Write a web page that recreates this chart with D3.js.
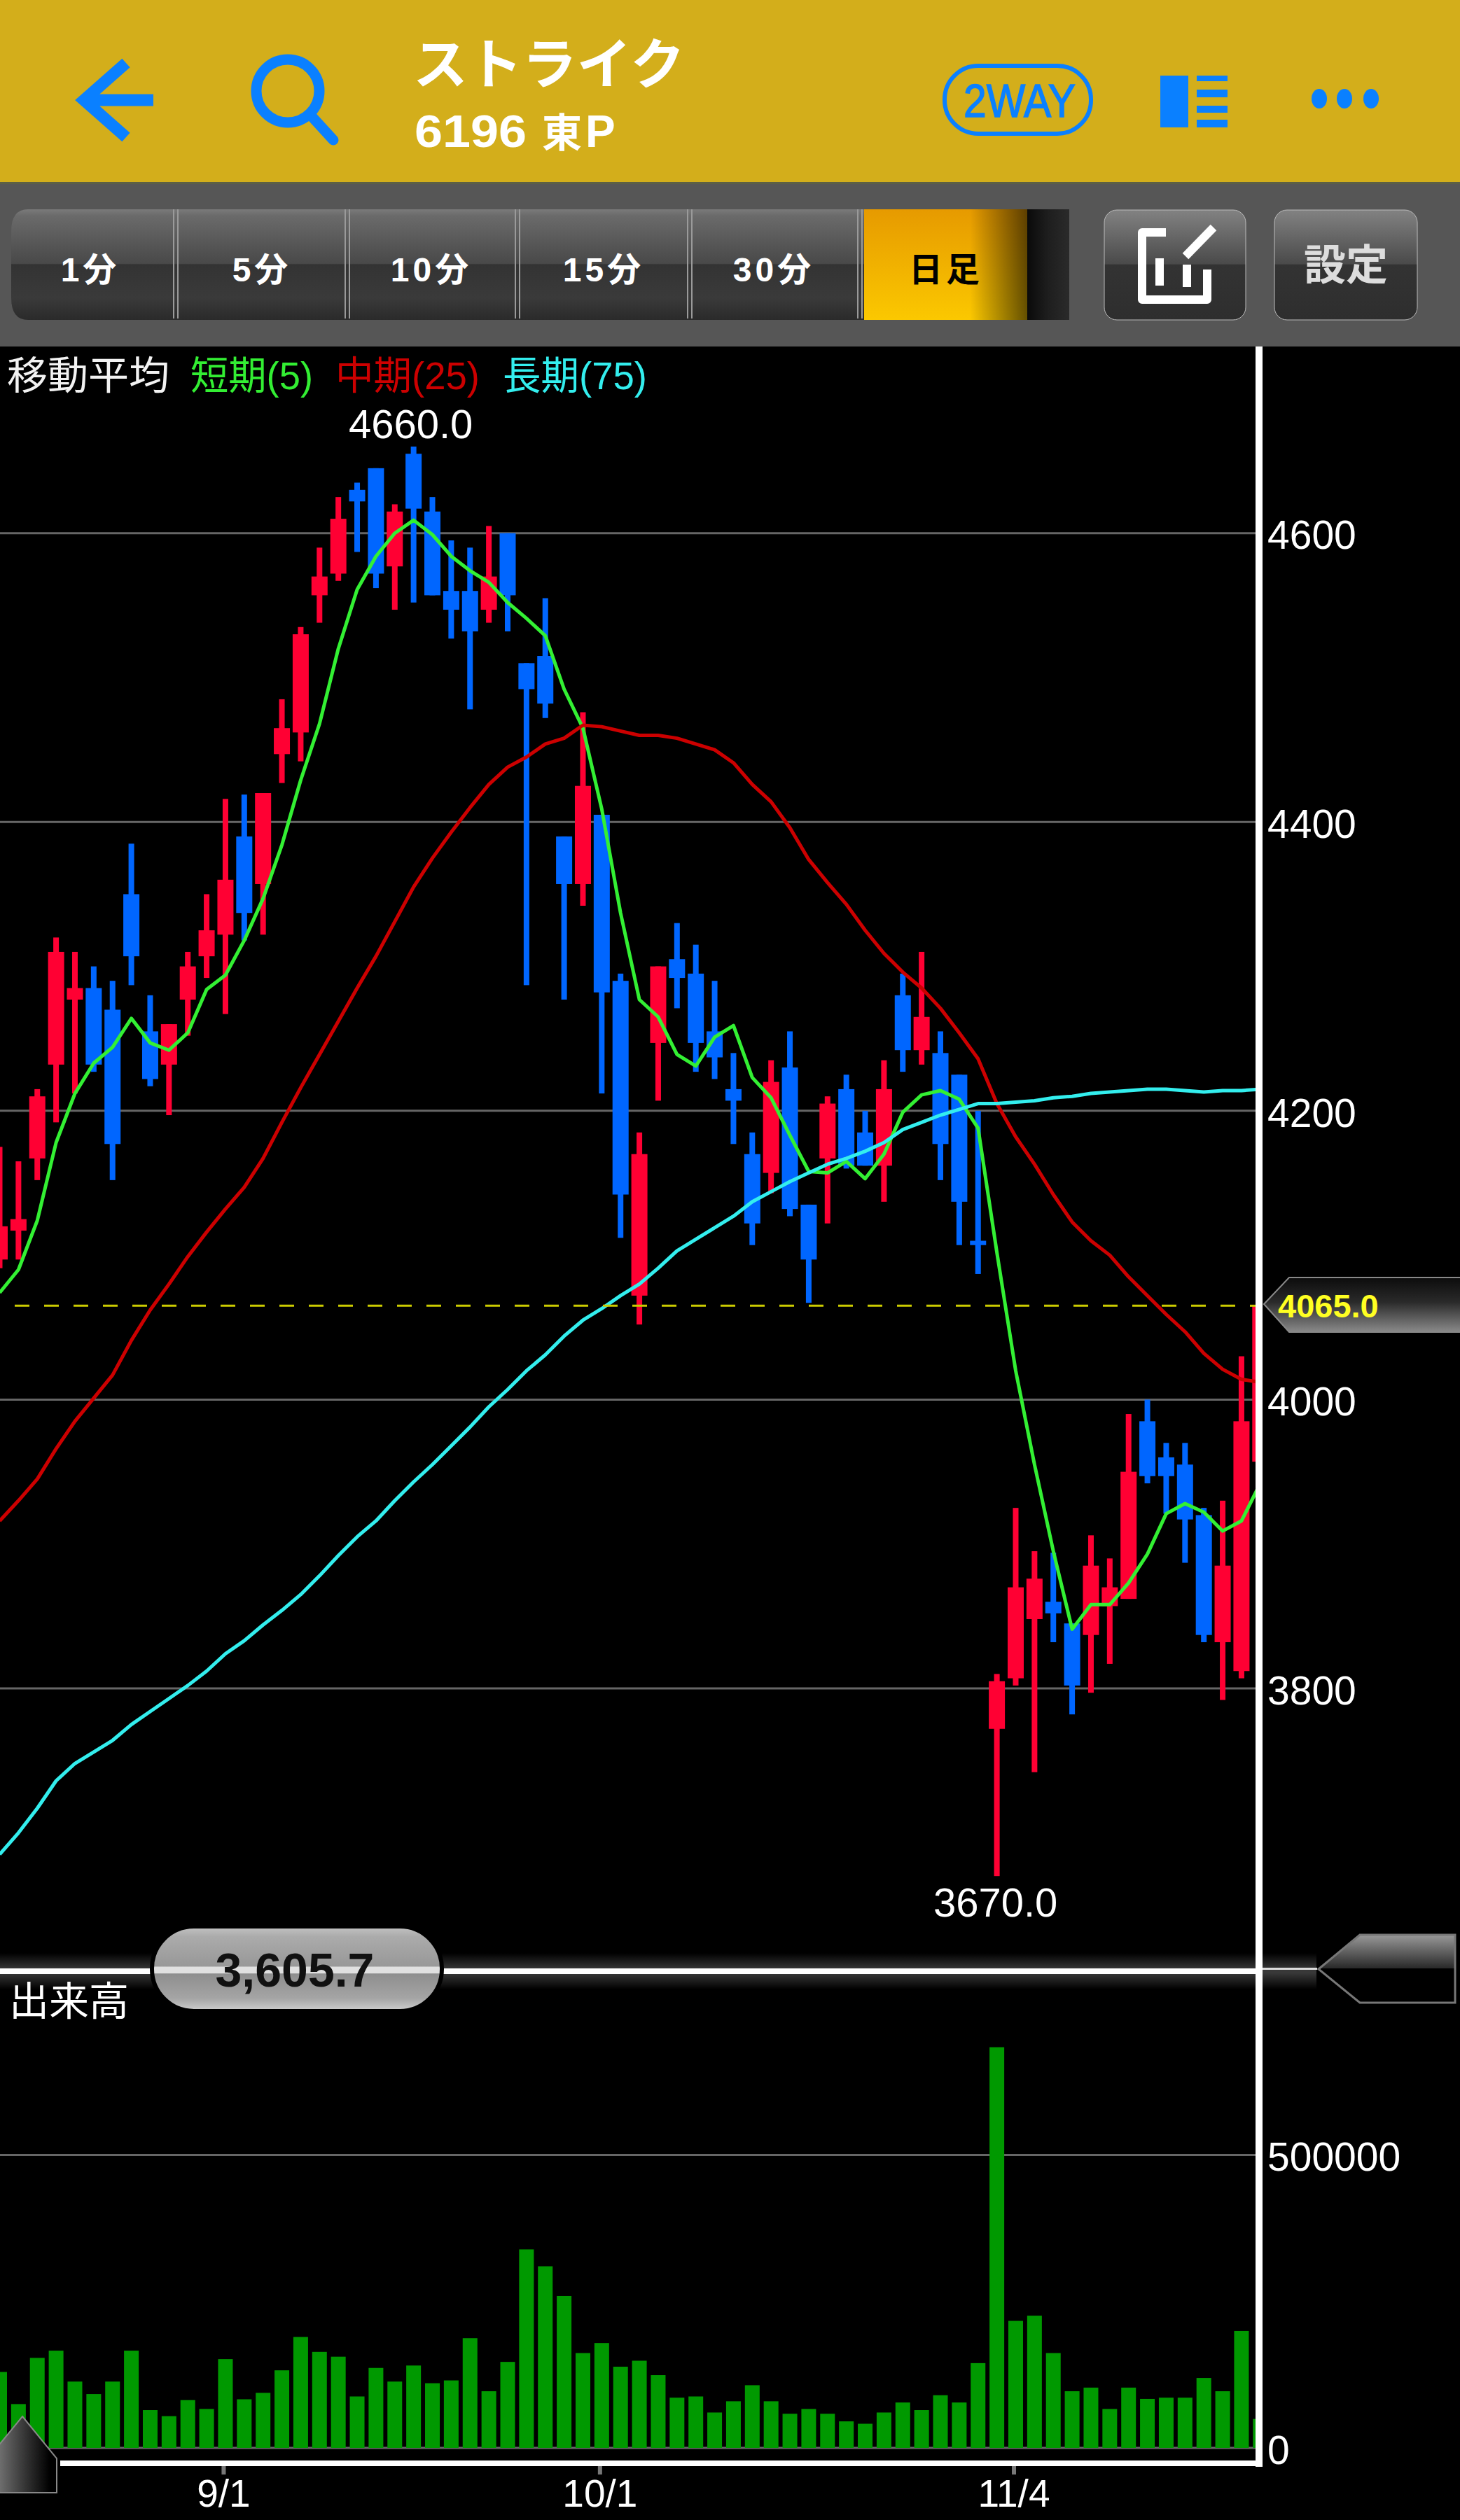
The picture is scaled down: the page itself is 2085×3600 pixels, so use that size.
<!DOCTYPE html>
<html>
<head>
<meta charset="utf-8">
<script src="https://cdn.jsdelivr.net/npm/d3@7"></script>
<style>
  html, body { margin: 0; padding: 0; background: #000; }
  svg { display: block; }
  text { font-family: "Liberation Sans", "Noto Sans CJK JP", sans-serif; }
</style>
</head>
<body>
<div id="chart"></div>
<script>
// daily candles (68 sessions, last one cut by the axis)
var opens = [4097,4117,4167,4232,4277,4285,4270,4350,4255,4232,4277,4307,4322,4390,4357,4447,4462,4557,4572,4630,4645,4577,4655,4615,4560,4560,4547,4600,4510,4515,4390,4357,4405,4290,4072,4247,4305,4295,4255,4215,4170,4157,4230,4135,4167,4215,4185,4162,4280,4242,4240,4225,4110,3772,3807,3848,3860,3845,3837,3857,3862,3985,3960,3955,3920,3832,3812,3957];
var highs = [4175,4165,4215,4320,4310,4300,4290,4385,4280,4260,4310,4350,4416,4419,4420,4485,4535,4590,4625,4635,4645,4620,4660,4625,4595,4590,4605,4600,4510,4555,4390,4476,4405,4295,4185,4300,4330,4315,4290,4240,4185,4235,4255,4135,4210,4225,4200,4235,4295,4310,4255,4225,4200,3810,3925,3895,3894,3845,3906,3890,3990,4000,3970,3970,3925,3930,4030,4065];
var lows = [4091,4097,4152,4192,4212,4227,4152,4287,4217,4197,4252,4292,4267,4318,4322,4427,4442,4538,4567,4587,4562,4547,4552,4557,4527,4478,4538,4532,4287,4472,4277,4342,4212,4112,4052,4207,4271,4227,4222,4177,4107,4143,4127,4067,4122,4160,4162,4137,4227,4232,4152,4107,4087,3670,3802,3742,3832,3782,3797,3817,3862,3942,3921,3887,3832,3792,3807,3957];
var closes = [4120,4125,4210,4310,4285,4232,4177,4307,4222,4260,4300,4325,4360,4337,4420,4465,4530,4570,4610,4622,4572,4615,4617,4557,4547,4532,4570,4557,4492,4482,4357,4425,4282,4142,4170,4300,4292,4247,4237,4207,4122,4220,4132,4097,4205,4162,4162,4215,4242,4265,4177,4137,4107,3805,3870,3876,3852,3802,3885,3870,3950,3947,3947,3917,3837,3885,3985,4065];
var volumes = [129600,74800,153600,166000,113200,91900,113200,166000,64500,54200,81600,66500,151600,83000,94000,132400,189300,163900,155700,87800,136500,113200,140600,110400,115200,187300,96700,146800,338800,310000,259300,161900,179000,138600,148800,124200,85700,87800,60400,79600,107000,79600,58300,66500,58300,45300,41200,60400,77500,64500,89900,77500,144700,683900,216800,225700,161900,96700,102900,66500,102900,83700,85700,85700,119400,96700,199600,49400];

// moving averages
var ma5 = [4074,4090,4124,4178,4212,4233,4244,4264,4247,4242,4254,4284,4294,4318,4347,4384,4429,4468,4520,4561,4584,4600,4609,4599,4584,4574,4566,4552,4541,4529,4492,4465,4409,4337,4277,4265,4239,4231,4251,4259,4223,4209,4183,4158,4157,4165,4153,4170,4199,4211,4214,4208,4188,4102,4020,3955,3895,3841,3858,3858,3873,3893,3921,3928,3922,3909,3916,3942];
var ma25 = [3916,3930,3945,3966,3985,4001,4017,4041,4062,4080,4099,4116,4132,4147,4167,4192,4216,4239,4262,4285,4307,4331,4355,4375,4393,4410,4426,4438,4445,4454,4458,4467,4466,4463,4460,4460,4458,4454,4450,4441,4426,4414,4396,4374,4358,4343,4325,4309,4296,4285,4271,4254,4236,4205,4182,4163,4142,4123,4110,4100,4085,4072,4059,4047,4032,4021,4014,4012];
var ma75 = [3685,3700,3717,3736,3748,3756,3764,3775,3784,3793,3802,3812,3824,3833,3844,3854,3865,3878,3892,3905,3916,3930,3943,3955,3968,3981,3995,4007,4020,4031,4044,4055,4063,4072,4080,4091,4103,4111,4119,4127,4137,4144,4151,4157,4163,4167,4172,4178,4187,4192,4197,4201,4205,4205,4206,4207,4209,4210,4212,4213,4214,4215,4215,4214,4213,4214,4214,4215];

var priceTicks = [3800, 4000, 4200, 4400, 4600];
var volumeTicks = [0, 500000];
var dateIndex = [12, 32, 54];
var dateLabels = ['9/1', '10/1', '11/4'];
var lastPrice = 4065;
var highLabel = { i: 22, text: '4660.0' };
var lowLabel = { i: 53, text: '3670.0' };
var scrollValue = '3,605.7';
var intervals = ['1分', '5分', '10分', '15分', '30分', '日足'];
var legend = [
  { text: '移動平均', x: 10, w: 232, color: '#f2f2f2' },
  { text: '短期(5)', x: 272, w: 175, color: '#33ee33' },
  { text: '中期(25)', x: 479, w: 206, color: '#cc0000' },
  { text: '長期(75)', x: 718, w: 206, color: '#33eeee' }
];

var BLUE = '#0066ff', CANDLE_RED = '#ff0033', ICON_BLUE = '#0a80ff';
var CJK = '"Noto Sans CJK JP", "Liberation Sans", sans-serif';

var svg = d3.select('#chart').append('svg')
  .attr('width', 2085)
  .attr('height', 3600)
  .attr('viewBox', '0 0 2085 3600');

var defs = svg.append('defs');

function gradient(id, stops, horizontal) {
  var g = defs.append('linearGradient').attr('id', id)
    .attr('x1', 0).attr('y1', 0)
    .attr('x2', horizontal ? 1 : 0).attr('y2', horizontal ? 0 : 1);
  stops.forEach(function(s) {
    g.append('stop').attr('offset', s[0]).attr('stop-color', s[1])
      .attr('stop-opacity', s[2] === undefined ? 1 : s[2]);
  });
}

gradient('btn', [[0, '#7a7a7a'], [0.06, '#6a6a6a'], [0.49, '#494949'], [0.5, '#333'], [0.8, '#3a3a3a'], [1, '#2a2a2a']]);
gradient('btnRight', [[0, '#828282'], [0.49, '#4a4a4a'], [0.5, '#333'], [1, '#2e2e2e']]);
gradient('selected', [[0, '#e69a00'], [1, '#fbc800']]);
gradient('selectedFade', [[0, '#000', 0], [0.65, '#000', 0], [1, '#000', 0.6]], true);
gradient('darkEnd', [[0, '#0a0a0a'], [0.5, '#1e1e1e'], [1, '#2a2a2a']], true);
gradient('priceTag', [[0, '#0c0c0c'], [0.45, '#2a2a2a'], [1, '#8a8a8a']]);
gradient('scrollTag', [[0, '#999'], [0.49, '#2a2a2a'], [0.5, '#000'], [1, '#000']]);
gradient('homeTag', [[0, '#888'], [0.55, '#333'], [0.9, '#000']], true);
gradient('pill', [[0, '#c4c4c4'], [0.12, '#ababab'], [0.47, '#989898'], [0.48, '#e0e0e0'], [0.55, '#e0e0e0'], [0.56, '#8e8e8e'], [0.85, '#a5a5a5'], [1, '#d0d0d0']]);
gradient('glow', [[0, '#fff', 0], [0.45, '#fff', 0.22], [0.55, '#fff', 0.22], [1, '#fff', 0]]);

defs.append('clipPath').attr('id', 'plotClip').append('rect')
  .attr('x', 0).attr('y', 495).attr('width', 1793).attr('height', 3010);

// background bands
svg.append('rect').attr('width', 2085).attr('height', 3600).attr('fill', '#000');
svg.append('rect').attr('width', 2085).attr('height', 261).attr('fill', '#d3ae1b');
svg.append('rect').attr('y', 261).attr('width', 2085).attr('height', 234).attr('fill', '#565656');
svg.append('rect').attr('y', 260).attr('width', 2085).attr('height', 3).attr('fill', '#5c5f45');

// header
var header = svg.append('g');

header.append('path')
  .attr('d', 'M180,90 L120,143 L180,196 M120,143 H219')
  .attr('fill', 'none').attr('stroke', ICON_BLUE).attr('stroke-width', 17);
header.append('circle').attr('cx', 411).attr('cy', 130).attr('r', 45)
  .attr('fill', 'none').attr('stroke', ICON_BLUE).attr('stroke-width', 15);
header.append('line').attr('x1', 444).attr('y1', 165).attr('x2', 476).attr('y2', 200)
  .attr('stroke', ICON_BLUE).attr('stroke-width', 15).attr('stroke-linecap', 'round');

header.append('text').attr('x', 590).attr('y', 120)
  .style('font-family', CJK).style('font-weight', 700).style('font-size', '78px')
  .attr('textLength', 388).attr('lengthAdjust', 'spacingAndGlyphs')
  .attr('fill', '#fff').text('ストライク');
header.append('text').attr('x', 592).attr('y', 210)
  .attr('textLength', 160).attr('lengthAdjust', 'spacingAndGlyphs')
  .style('font-weight', 700).style('font-size', '64px').attr('fill', '#fff').text('6196');
header.append('text').attr('x', 774).attr('y', 210)
  .style('font-family', CJK).style('font-weight', 700).style('font-size', '57px').attr('fill', '#fff').text('東');
header.append('text').attr('x', 836).attr('y', 210)
  .style('font-weight', 700).style('font-size', '64px').attr('fill', '#fff').text('P');

header.append('rect').attr('x', 1349).attr('y', 94).attr('width', 209).attr('height', 97).attr('rx', 48)
  .attr('fill', 'none').attr('stroke', ICON_BLUE).attr('stroke-width', 6);
header.append('text').attr('x', 1376).attr('y', 167)
  .attr('textLength', 160).attr('lengthAdjust', 'spacingAndGlyphs')
  .style('font-size', '66px').attr('fill', ICON_BLUE)
  .attr('stroke', ICON_BLUE).attr('stroke-width', 1.5).text('2WAY');

header.append('rect').attr('x', 1657).attr('y', 108).attr('width', 40).attr('height', 74).attr('fill', ICON_BLUE);
[[108, 8], [128, 11], [151, 10], [171, 11]].forEach(function(b) {
  header.append('rect').attr('x', 1709).attr('y', b[0]).attr('width', 44).attr('height', b[1]).attr('fill', ICON_BLUE);
});
[1884, 1920, 1958].forEach(function(cx) {
  header.append('ellipse').attr('cx', cx).attr('cy', 141).attr('rx', 11).attr('ry', 14).attr('fill', ICON_BLUE);
});

// interval selector
var tabs = svg.append('g');
tabs.append('path')
  .attr('d', 'M40,299 H1234 V457 H40 Q16,457 16,425 V331 Q16,299 40,299 Z')
  .attr('fill', 'url(#btn)');
tabs.append('rect').attr('x', 1234).attr('y', 299).attr('width', 233).attr('height', 158).attr('fill', 'url(#selected)');
tabs.append('rect').attr('x', 1234).attr('y', 299).attr('width', 233).attr('height', 158).attr('fill', 'url(#selectedFade)');
tabs.append('rect').attr('x', 1467).attr('y', 299).attr('width', 60).attr('height', 158).attr('fill', 'url(#darkEnd)');

[250, 495, 738, 984, 1227].forEach(function(x) {
  tabs.append('rect').attr('x', x - 3).attr('y', 299).attr('width', 2).attr('height', 156).attr('fill', '#9a9a9a');
  tabs.append('rect').attr('x', x + 3).attr('y', 299).attr('width', 2).attr('height', 156).attr('fill', '#9a9a9a');
});

var tabCenters = [129, 374, 616, 862, 1105, 1351];
tabs.selectAll('text.tab').data(intervals).enter().append('text')
  .attr('class', 'tab')
  .attr('x', function(d, i) { return tabCenters[i]; })
  .attr('y', 402)
  .attr('text-anchor', 'middle')
  .style('font-family', '"Liberation Sans", "Noto Sans CJK JP", sans-serif')
  .style('font-weight', 700)
  .style('font-size', '48px')
  .style('letter-spacing', '5px')
  .attr('fill', function(d, i) { return i === 5 ? '#000' : '#fff'; })
  .text(function(d) { return d; });

[[1577, 202], [1820, 204]].forEach(function(b) {
  tabs.append('rect').attr('x', b[0]).attr('y', 300).attr('width', b[1]).attr('height', 157).attr('rx', 18)
    .attr('fill', 'url(#btnRight)').attr('stroke', '#bbb').attr('stroke-width', 1);
});
tabs.append('path')
  .attr('d', 'M1665,332 H1631 V428 H1724 V385 M1656,369 V408 M1695,378 V410')
  .attr('fill', 'none').attr('stroke', '#fff').attr('stroke-width', 12).attr('stroke-linejoin', 'round');
tabs.append('line').attr('x1', 1693).attr('y1', 366).attr('x2', 1733).attr('y2', 325)
  .attr('stroke', '#fff').attr('stroke-width', 12);
tabs.append('text').attr('x', 1922).attr('y', 400).attr('text-anchor', 'middle')
  .style('font-family', CJK).style('font-weight', 700).style('font-size', '60px')
  .attr('fill', '#ddd').text('設定');

// legend
svg.selectAll('text.legend').data(legend).enter().append('text')
  .attr('class', 'legend')
  .attr('x', function(d) { return d.x; })
  .attr('y', 556)
  .attr('textLength', function(d) { return d.w; })
  .attr('lengthAdjust', 'spacingAndGlyphs')
  .style('font-size', '56px')
  .style('font-family', '"Liberation Sans", "Noto Sans CJK JP", sans-serif')
  .attr('fill', function(d) { return d.color; })
  .text(function(d) { return d.text; });

// scales
var x = d3.scaleLinear().domain([0, opens.length - 1]).range([-0.5, 1799.8]);
var yPrice = d3.scaleLinear().domain([3800, 4600]).range([2412, 761.7]);
var yVolume = d3.scaleLinear().domain([0, 500000]).range([3497, 3078.5]);

var plot = svg.append('g').attr('clip-path', 'url(#plotClip)');

// gridlines
plot.selectAll('line.grid').data(priceTicks).enter().append('line')
  .attr('class', 'grid')
  .attr('x1', 0).attr('x2', 1793)
  .attr('y1', yPrice).attr('y2', yPrice)
  .attr('stroke', '#666').attr('stroke-width', 3);

plot.selectAll('line.vgrid').data(volumeTicks).enter().append('line')
  .attr('class', 'vgrid')
  .attr('x1', 0).attr('x2', 1793)
  .attr('y1', yVolume).attr('y2', yVolume)
  .attr('stroke', '#666').attr('stroke-width', 3);

// volume bars
plot.selectAll('rect.vol').data(volumes).enter().append('rect')
  .attr('class', 'vol')
  .attr('x', function(d, i) { return x(i) - 10.5; })
  .attr('y', function(d) { return yVolume(d); })
  .attr('width', 21)
  .attr('height', function(d) { return yVolume(0) - yVolume(d); })
  .attr('fill', '#009900');

// candles
var index = d3.range(opens.length);
var candleColor = function(i) { return closes[i] >= opens[i] ? CANDLE_RED : BLUE; };

plot.selectAll('rect.wick').data(index).enter().append('rect')
  .attr('class', 'wick')
  .attr('x', function(i) { return x(i) - 4; })
  .attr('y', function(i) { return yPrice(highs[i]); })
  .attr('width', 8)
  .attr('height', function(i) { return yPrice(lows[i]) - yPrice(highs[i]); })
  .attr('fill', candleColor);

plot.selectAll('rect.body').data(index).enter().append('rect')
  .attr('class', 'body')
  .attr('x', function(i) { return x(i) - 11.5; })
  .attr('y', function(i) { return yPrice(Math.max(opens[i], closes[i])); })
  .attr('width', 23)
  .attr('height', function(i) { return Math.abs(yPrice(opens[i]) - yPrice(closes[i])); })
  .attr('fill', candleColor);

// moving average lines
var maLine = d3.line()
  .x(function(d, i) { return x(i); })
  .y(function(d) { return yPrice(d); });

[[ma5, '#33f033'], [ma25, '#cc0000'], [ma75, '#33eeee']].forEach(function(s) {
  plot.append('path').attr('d', maLine(s[0]))
    .attr('fill', 'none').attr('stroke', s[1]).attr('stroke-width', 5).attr('stroke-linejoin', 'round');
});

// last price line
plot.append('line')
  .attr('x1', 0).attr('x2', 1793)
  .attr('y1', yPrice(lastPrice)).attr('y2', yPrice(lastPrice))
  .attr('stroke', '#cccc00').attr('stroke-width', 3)
  .attr('stroke-dasharray', '21 21').attr('stroke-dashoffset', 21);

// high and low labels
svg.append('text').attr('x', x(highLabel.i) - 4).attr('y', 626).attr('text-anchor', 'middle')
  .style('font-size', '58px').attr('fill', '#fff').text(highLabel.text);
svg.append('text').attr('x', x(lowLabel.i) - 2).attr('y', 2738).attr('text-anchor', 'middle')
  .style('font-size', '58px').attr('fill', '#fff').text(lowLabel.text);

// axes
function styleAxis(g) {
  g.select('.domain').remove();
  g.selectAll('text').style('font-size', '57px').style('font-family', '"Liberation Sans", sans-serif').attr('fill', '#fff');
}

svg.append('g').attr('transform', 'translate(1803,4)')
  .call(d3.axisRight(yPrice).tickValues(priceTicks).tickSize(0).tickPadding(7).tickFormat(d3.format('d')))
  .call(styleAxis);

svg.append('g').attr('transform', 'translate(1803,4)')
  .call(d3.axisRight(yVolume).tickValues(volumeTicks).tickSize(0).tickPadding(7).tickFormat(d3.format('d')))
  .call(styleAxis);

var xAxis = svg.append('g').attr('transform', 'translate(-3,3520)')
  .call(d3.axisBottom(x).tickValues(dateIndex).tickSize(15).tickPadding(7)
    .tickFormat(function(d, i) { return dateLabels[i]; }))
  .call(styleAxis);
xAxis.selectAll('text').style('font-size', '55px');
xAxis.selectAll('line').attr('stroke', '#777').attr('stroke-width', 6);

// frame
svg.append('rect').attr('x', 1793).attr('y', 495).attr('width', 10).attr('height', 3029).attr('fill', '#fff');
svg.append('rect').attr('x', 86).attr('y', 3515).attr('width', 1717).attr('height', 8).attr('fill', '#fff');

// scroll divider
svg.append('rect').attr('x', 0).attr('y', 2790).attr('width', 1880).attr('height', 52).attr('fill', 'url(#glow)');
svg.append('rect').attr('x', 0).attr('y', 2812).attr('width', 1803).attr('height', 8).attr('fill', '#fff');
svg.append('rect').attr('x', 1803).attr('y', 2811).attr('width', 78).attr('height', 3).attr('fill', '#ddd');

svg.append('rect').attr('x', 217).attr('y', 2752).attr('width', 414).attr('height', 121).attr('rx', 60)
  .attr('fill', 'url(#pill)').attr('stroke', '#000').attr('stroke-width', 6);
svg.append('text').attr('x', 421).attr('y', 2838).attr('text-anchor', 'middle')
  .style('font-weight', 700).style('font-size', '68px').attr('fill', '#111').text(scrollValue);

svg.append('text').attr('x', 13).attr('y', 2879)
  .style('font-family', CJK).style('font-size', '57px')
  .attr('fill', '#fff').text('出来高');

// scroll tab on the right
svg.append('path').attr('d', 'M1883,2813 L1942,2764 H2078 V2861 H1942 Z')
  .attr('fill', 'url(#scrollTag)').attr('stroke', '#777').attr('stroke-width', 3);

// home tab bottom left
svg.append('path').attr('d', 'M32,3452 L81,3512 V3561 H-17 V3512 Z')
  .attr('fill', 'url(#homeTag)').attr('stroke', '#888').attr('stroke-width', 2);

// last price tag
svg.append('path').attr('d', 'M1805,1863 L1841,1825 H2090 V1903 H1841 Z')
  .attr('fill', 'url(#priceTag)').attr('stroke', '#888').attr('stroke-width', 2);
svg.append('text').attr('x', 1825).attr('y', 1882)
  .style('font-weight', 700).style('font-size', '47px').attr('fill', '#ffff22')
  .text(d3.format('.1f')(lastPrice));
</script>
</body>
</html>
